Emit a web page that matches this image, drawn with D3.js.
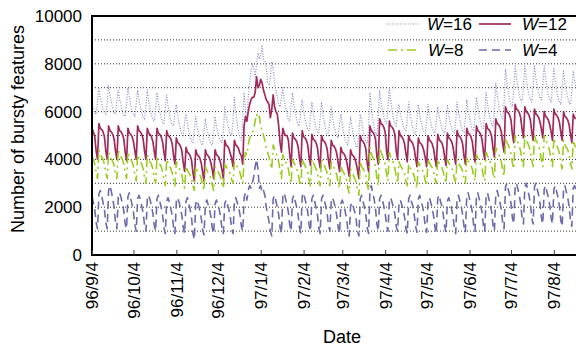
<!DOCTYPE html>
<html>
<head>
<meta charset="utf-8">
<script src="https://cdn.jsdelivr.net/npm/d3@7"></script>
<style>
  body { margin: 0; background: #fff; }
  svg { display: block; }
</style>
</head>
<body>
<div id="chart"></div>
<script>
// daily counts, one value per day starting at startDate (Wed 1996-09-04)
const startDate = '1996-09-04';
const dayCount = 350; // last day shown at the right edge

const tickDates = ['1996-09-04', '1996-10-04', '1996-11-04', '1996-12-04', '1997-01-04', '1997-02-04',
    '1997-03-04', '1997-04-04', '1997-05-04', '1997-06-04', '1997-07-04', '1997-08-04'];
const tickLabels = ['96/9/4', '96/10/4', '96/11/4', '96/12/4', '97/1/4', '97/2/4',
    '97/3/4', '97/4/4', '97/5/4', '97/6/4', '97/7/4', '97/8/4'];
const yTicks = [0, 2000, 4000, 6000, 8000, 10000];
const gridValues = [1000, 2000, 3000, 4000, 5000, 6000, 7000, 8000, 9000];

const w16 = [6350,6100,5950,5900,6400,
    7000,6600,6350,6100,5950,5900,6400, 7100,6700,6400,6150,5950,5900,6450,
    6900,6500,6250,6000,5850,5800,6300, 7000,6600,6300,6050,5850,5800,6350,
    6900,6500,6200,5950,5750,5700,6250, 6900,6450,6100,5850,5650,5600,6200,
    6800,6350,6000,5750,5550,5500,6100, 6700,6250,5900,5650,5450,5400,6000,
    6300,5850,5500,5250,5050,5000,5600, 5900,5500,5200,4950,4750,4700,5250,
    5800,5400,5100,4850,4650,4600,5150, 5700,5300,5050,4800,4650,4600,5100,
    5800,5400,5150,4900,4750,4700,5200, 6200,5800,5500,5250,5050,5000,5550,
    6600,5950,5500,5150,4900,4800,5600, 6800,6000,5700,6600,7200,7700,8000,
    7800,7450,8000,8450,8200,8300,8750, 8200,8100,7900,7250,7100,7400,8100,
    7800,7200,6900,6600,6300,6200,6600, 7000,6500,6150,5900,5650,5600,6250,
    6800,6300,5950,5700,5450,5400,6050, 6500,6050,5700,5450,5250,5200,5800,
    6400,5950,5600,5350,5150,5100,5700, 6400,5900,5550,5300,5050,5000,5650,
    6200,5750,5400,5150,4950,4900,5500, 5900,5450,5100,4850,4650,4600,5200,
    5800,5350,5000,4750,4550,4500,5100, 5900,5500,5200,4950,4750,4700,5250,
    6800,6150,5700,5350,5100,5000,5800, 6900,6400,6050,5800,5550,5500,6150,
    7000,6450,6050,5700,5500,5400,6100, 6300,5900,5650,5400,5250,5200,5700,
    6400,5900,5550,5300,5100,5050,5650, 6300,5850,5550,5300,5150,5100,5600,
    6300,5850,5550,5300,5150,5100,5600, 6200,5800,5550,5300,5150,5100,5550,
    6300,5850,5550,5300,5150,5100,5600, 6400,5950,5650,5400,5200,5150,5700,
    6500,6050,5700,5450,5250,5200,5800, 6600,6150,5800,5550,5350,5300,5900,
    6800,6300,5950,5700,5450,5400,6050, 7200,6700,6300,6000,5800,5700,6400,
    7800,7250,6850,6500,6300,6200,6900, 7900,7400,7000,6700,6500,6400,7100,
    7900,7400,7000,6700,6500,6400,7100, 7900,7400,7050,6800,6550,6500,7150,
    7900,7400,7000,6700,6500,6400,7100, 7800,7300,6900,6600,6400,6300,7000,
    7700,7200,6850,6600,6350,6300,6950,
    7700,7300,7000];

const w12 = [5300,5150,4950,4350,4000,
    5500,5300,5250,5150,4950,4350,4000, 5400,5200,5150,5050,4850,4350,4000,
    5400,5200,5150,5050,4850,4300,3950, 5300,5100,5050,4950,4750,4350,4000,
    5400,5200,5150,5050,4850,4350,4000, 5300,5100,5050,4950,4750,4350,4000,
    5300,5100,5050,4950,4750,4300,3950, 5200,5000,4950,4850,4650,4150,3800,
    4900,4700,4650,4550,4350,3850,3500, 4500,4300,4250,4150,3950,3450,3100,
    4400,4200,4150,4050,3850,3450,3100, 4400,4200,4150,4050,3850,3550,3200,
    4400,4200,4150,4050,3850,3550,3200, 4800,4600,4550,4450,4250,4050,3700,
    4800,4600,4550,4450,4250,4150,3800, 5400,5800,5600,6000,6300,6500,6600,
    6600,6800,7450,7000,7100,7350,7200, 6900,6700,6500,6400,6300,5750,6100,
    6700,6200,6000,5900,5400,4700,4300, 5300,5100,5000,5000,4800,4200,3700,
    5100,4900,4850,4750,4550,4050,3700, 5200,4950,4900,4800,4600,4100,3750,
    5050,4850,4800,4700,4500,4000,3650, 5000,4800,4750,4650,4450,3950,3600,
    4800,4600,4550,4450,4250,3850,3500, 4500,4300,4250,4150,3950,3650,3300,
    4400,4200,4150,4050,3850,3550,3200, 5000,4800,4750,4650,4450,3850,3500,
    5400,5200,5150,5050,4850,4150,3800, 5700,5500,5450,5350,5150,4350,4000,
    5600,5400,5350,5250,5050,4350,4000, 5200,5000,4950,4850,4650,4250,3900,
    5000,4800,4750,4650,4450,4050,3700, 4900,4700,4650,4550,4350,4050,3700,
    5000,4800,4750,4650,4450,4050,3700, 5050,4850,4750,4700,4500,4100,3750,
    5100,4900,4850,4750,4550,4150,3800, 5200,5000,4950,4850,4650,4150,3800,
    5300,5100,5050,4950,4750,4250,3900, 5400,5200,5150,5050,4850,4350,4000,
    5500,5300,5250,5150,4950,4450,4100, 5700,5500,5450,5350,5150,4650,4300,
    6200,6000,5950,5850,5650,5050,4700, 6300,6100,6050,5950,5750,5250,4900,
    6200,6000,5950,5850,5650,5150,4800, 6100,5900,5850,5750,5550,5250,4900,
    6000,5800,5750,5650,5450,5150,4800, 6100,5900,5850,5750,5550,5150,4800,
    6000,5800,5750,5650,5450,5050,4700,
    5900,5750,5700];

const w8 = [4100,4000,3800,3450,3200,
    4400,4200,4100,4000,3800,3450,3200, 4300,4150,4050,3900,3750,3400,3200,
    4400,4200,4100,4000,3800,3450,3200, 4300,4100,4000,3900,3700,3350,3100,
    4200,4000,3900,3800,3600,3250,3000, 4200,4000,3900,3800,3600,3250,3000,
    4100,3900,3800,3700,3500,3150,2900, 4000,3850,3750,3600,3450,3100,2900,
    3900,3750,3650,3500,3350,3000,2800, 3700,3550,3450,3350,3200,2900,2700,
    3700,3550,3450,3350,3200,2900,2700, 3700,3550,3450,3350,3200,2900,2700,
    3700,3550,3500,3400,3250,3000,2800, 3800,3700,3600,3500,3400,3150,3000,
    3900,3750,3700,3600,3450,3200,3000, 4000,4300,4200,4600,4900,5000,5100,
    5300,5600,5900,5700,5800,5400,5200, 5000,4800,4500,4300,4100,3800,3600,
    4600,4400,4300,4100,3900,3500,3200, 4200,4000,3900,3800,3600,3250,3000,
    4000,3850,3750,3600,3450,3100,2900, 4000,3850,3750,3600,3450,3100,2900,
    4000,3850,3750,3600,3450,3100,2900, 4000,3850,3750,3600,3450,3100,2900,
    3900,3750,3650,3500,3350,3000,2800, 3700,3550,3450,3300,3150,2800,2600,
    3600,3450,3350,3200,3050,2700,2500, 3900,3700,3600,3500,3300,2950,2700,
    4500,4250,4100,3950,3700,3200,2900, 4500,4300,4150,4000,3800,3400,3100,
    4300,4100,4000,3850,3650,3250,3000, 3900,3750,3650,3550,3400,3100,2900,
    3800,3650,3550,3450,3300,3000,2800, 3900,3750,3650,3550,3400,3100,2900,
    4000,3850,3750,3650,3500,3200,3000, 4000,3850,3750,3650,3500,3200,3000,
    4000,3850,3750,3650,3500,3200,3000, 4000,3850,3750,3650,3500,3200,3000,
    4100,3950,3850,3750,3600,3300,3100, 4200,4050,3950,3800,3650,3300,3100,
    4300,4150,4050,3900,3750,3400,3200, 4500,4300,4200,4100,3900,3550,3300,
    4900,4700,4600,4450,4250,3850,3600, 5000,4800,4700,4550,4350,3950,3700,
    5000,4800,4700,4550,4350,3950,3700, 5000,4800,4700,4550,4350,3950,3700,
    5000,4800,4700,4550,4350,3950,3700, 4900,4700,4600,4450,4250,3850,3600,
    4800,4600,4500,4400,4200,3850,3600,
    4800,4600,4500];

const w4 = [2450,2200,1900,1350,1100,
    2550,2700,2450,2200,1900,1350,1100, 2700,2900,2650,2350,2000,1350,1100,
    2450,2600,2400,2150,1850,1300,1100, 2450,2600,2350,2100,1800,1250,1000,
    2350,2500,2300,2050,1750,1250,1000, 2350,2500,2300,2050,1750,1250,1000,
    2350,2500,2250,2000,1700,1150,900, 2250,2400,2200,1950,1650,1150,900,
    2250,2400,2200,1950,1650,1150,900, 2250,2400,2150,1900,1550,900,650,
    2150,2300,2100,1850,1550,1050,850, 2150,2300,2100,1900,1600,1100,900,
    2150,2300,2100,1900,1600,1100,900, 2150,2300,2100,1900,1600,1100,900,
    2250,2400,2200,2000,1700,1200,1000, 2400,2600,2300,2700,2900,2800,3000,
    3300,3700,4000,3600,2800,2900,2600, 2700,2500,2000,1700,1400,1000,800,
    2350,2500,2250,2000,1700,1150,900, 2450,2600,2350,2100,1800,1250,1000,
    2350,2500,2250,2000,1700,1150,900, 2450,2600,2350,2100,1800,1250,1000,
    2350,2500,2250,2000,1700,1150,900, 2350,2500,2300,2050,1750,1250,1000,
    2250,2400,2200,1950,1650,1150,900, 2150,2300,2100,1850,1550,1050,800,
    2050,2200,2000,1800,1500,1000,800, 2350,2500,2250,2000,1700,1150,900,
    2700,2900,2600,2350,1950,1300,1000, 2350,2500,2300,2050,1750,1250,1000,
    2250,2400,2200,2000,1700,1200,1000, 2150,2300,2100,1900,1600,1100,900,
    2350,2500,2250,2050,1700,1200,950, 2350,2500,2250,2050,1700,1200,950,
    2250,2400,2200,1950,1650,1150,900, 2350,2500,2250,2050,1700,1200,950,
    2250,2400,2200,1950,1650,1150,900, 2350,2500,2250,2050,1700,1200,950,
    2450,2600,2350,2100,1800,1250,1000, 2450,2600,2350,2100,1800,1250,1000,
    2450,2600,2350,2100,1800,1250,1000, 2550,2700,2450,2200,1900,1350,1100,
    2850,3000,2750,2500,2150,1550,1300, 2850,3000,2750,2500,2150,1550,1300,
    2850,3000,2750,2500,2150,1550,1300, 2850,3000,2750,2500,2150,1550,1300,
    2750,2900,2650,2400,2100,1550,1300, 2750,2900,2650,2400,2050,1450,1200,
    2750,2900,2650,2400,2050,1450,1200,
    2800,2900,2700];

const seriesNames = ['16', '12', '8', '4'];
const seriesValues = [w16, w12, w8, w4];

const W = 576, H = 350;
const margin = { top: 16, right: 0, bottom: 95, left: 92 };
const font = '"Liberation Sans", Arial, Helvetica, sans-serif';

const styles = [
    { color: '#8c8cc8', width: 1.2, dash: '1,1.6' },
    { color: '#a02a5c', width: 1.7, dash: null },
    { color: '#9ccc22', width: 1.6, dash: '9,4,2,4' },
    { color: '#6b6baa', width: 1.6, dash: '8,5' }
];

const parse = d3.utcParse('%Y-%m-%d');
const t0 = parse(startDate);
const dayMs = 24 * 3600 * 1000;

const x = d3.scaleUtc()
    .domain([t0, new Date(t0.getTime() + dayCount * dayMs)])
    .range([margin.left, W - margin.right]);
const y = d3.scaleLinear()
    .domain([0, 10000])
    .range([H - margin.bottom, margin.top]);

const svg = d3.select('#chart').append('svg')
    .attr('width', W).attr('height', H)
    .style('font-family', font);

svg.append('defs').append('clipPath').attr('id', 'plot-clip')
    .append('rect')
    .attr('x', margin.left).attr('y', margin.top)
    .attr('width', W - margin.left).attr('height', H - margin.top - margin.bottom);

// dotted grid
svg.append('g')
    .selectAll('line')
    .data(gridValues)
    .join('line')
    .attr('x1', margin.left).attr('x2', W)
    .attr('y1', d => y(d)).attr('y2', d => y(d))
    .attr('stroke', '#333')
    .attr('stroke-width', 1)
    .attr('stroke-dasharray', '1,2');

// series
const line = d3.line()
    .x((d, i) => x(new Date(t0.getTime() + i * dayMs)))
    .y(d => y(d));

const plot = svg.append('g').attr('clip-path', 'url(#plot-clip)');
seriesValues.forEach((vals, k) => {
    plot.append('path')
        .datum(vals)
        .attr('fill', 'none')
        .attr('stroke', styles[k].color)
        .attr('stroke-width', styles[k].width)
        .attr('stroke-dasharray', styles[k].dash)
        .attr('stroke-linejoin', 'round')
        .attr('d', line);
});

// frame
const bottom = H - margin.bottom;
svg.append('path')
    .attr('d', `M${W + 2},${margin.top}H${margin.left}V${bottom}H${W + 2}`)
    .attr('fill', 'none')
    .attr('stroke', '#000')
    .attr('stroke-width', 2);

// x axis
const xAxis = svg.append('g')
    .attr('transform', `translate(0,${bottom})`)
    .call(d3.axisBottom(x)
        .tickValues(tickDates.map(parse))
        .tickFormat((d, i) => tickLabels[i])
        .tickSizeInner(-5)
        .tickSizeOuter(0));
xAxis.select('.domain').remove();
xAxis.selectAll('line').attr('stroke', '#444');
xAxis.selectAll('text')
    .attr('transform', 'rotate(-90)')
    .attr('text-anchor', 'end')
    .attr('x', -7).attr('y', 0).attr('dy', '0.35em')
    .attr('fill', '#000')
    .style('font-size', '17px')
    .style('font-family', font);

// y axis
const yAxis = svg.append('g')
    .attr('transform', `translate(${margin.left},0)`)
    .call(d3.axisLeft(y).tickValues(yTicks).tickFormat(d3.format('d')).tickSize(0).tickPadding(10));
yAxis.select('.domain').remove();
yAxis.selectAll('text')
    .attr('fill', '#000')
    .style('font-size', '17px')
    .style('font-family', font);

// axis titles
svg.append('text')
    .attr('transform', 'translate(24,129) rotate(-90)')
    .attr('text-anchor', 'middle')
    .style('font-size', '18px')
    .text('Number of bursty features');
svg.append('text')
    .attr('x', 342).attr('y', 343)
    .attr('text-anchor', 'middle')
    .style('font-size', '18px')
    .text('Date');

// legend: two rows, two columns
const legendPos = [
    { lx: 387, tx: 427, y: 24 },
    { lx: 479, tx: 522, y: 24 },
    { lx: 388, tx: 428, y: 50 },
    { lx: 479, tx: 522, y: 50 }
];
const legend = svg.append('g');
seriesNames.forEach((name, k) => {
    const p = legendPos[k];
    legend.append('line')
        .attr('x1', p.lx).attr('x2', p.lx + 32)
        .attr('y1', p.y).attr('y2', p.y)
        .attr('stroke', styles[k].color)
        .attr('stroke-width', styles[k].width)
        .attr('stroke-dasharray', styles[k].dash);
    const t = legend.append('text')
        .attr('x', p.tx).attr('y', p.y + 6)
        .style('font-size', '17px');
    t.append('tspan').style('font-style', 'italic').text('W');
    t.append('tspan').text('=' + name);
});
</script>
</body>
</html>
